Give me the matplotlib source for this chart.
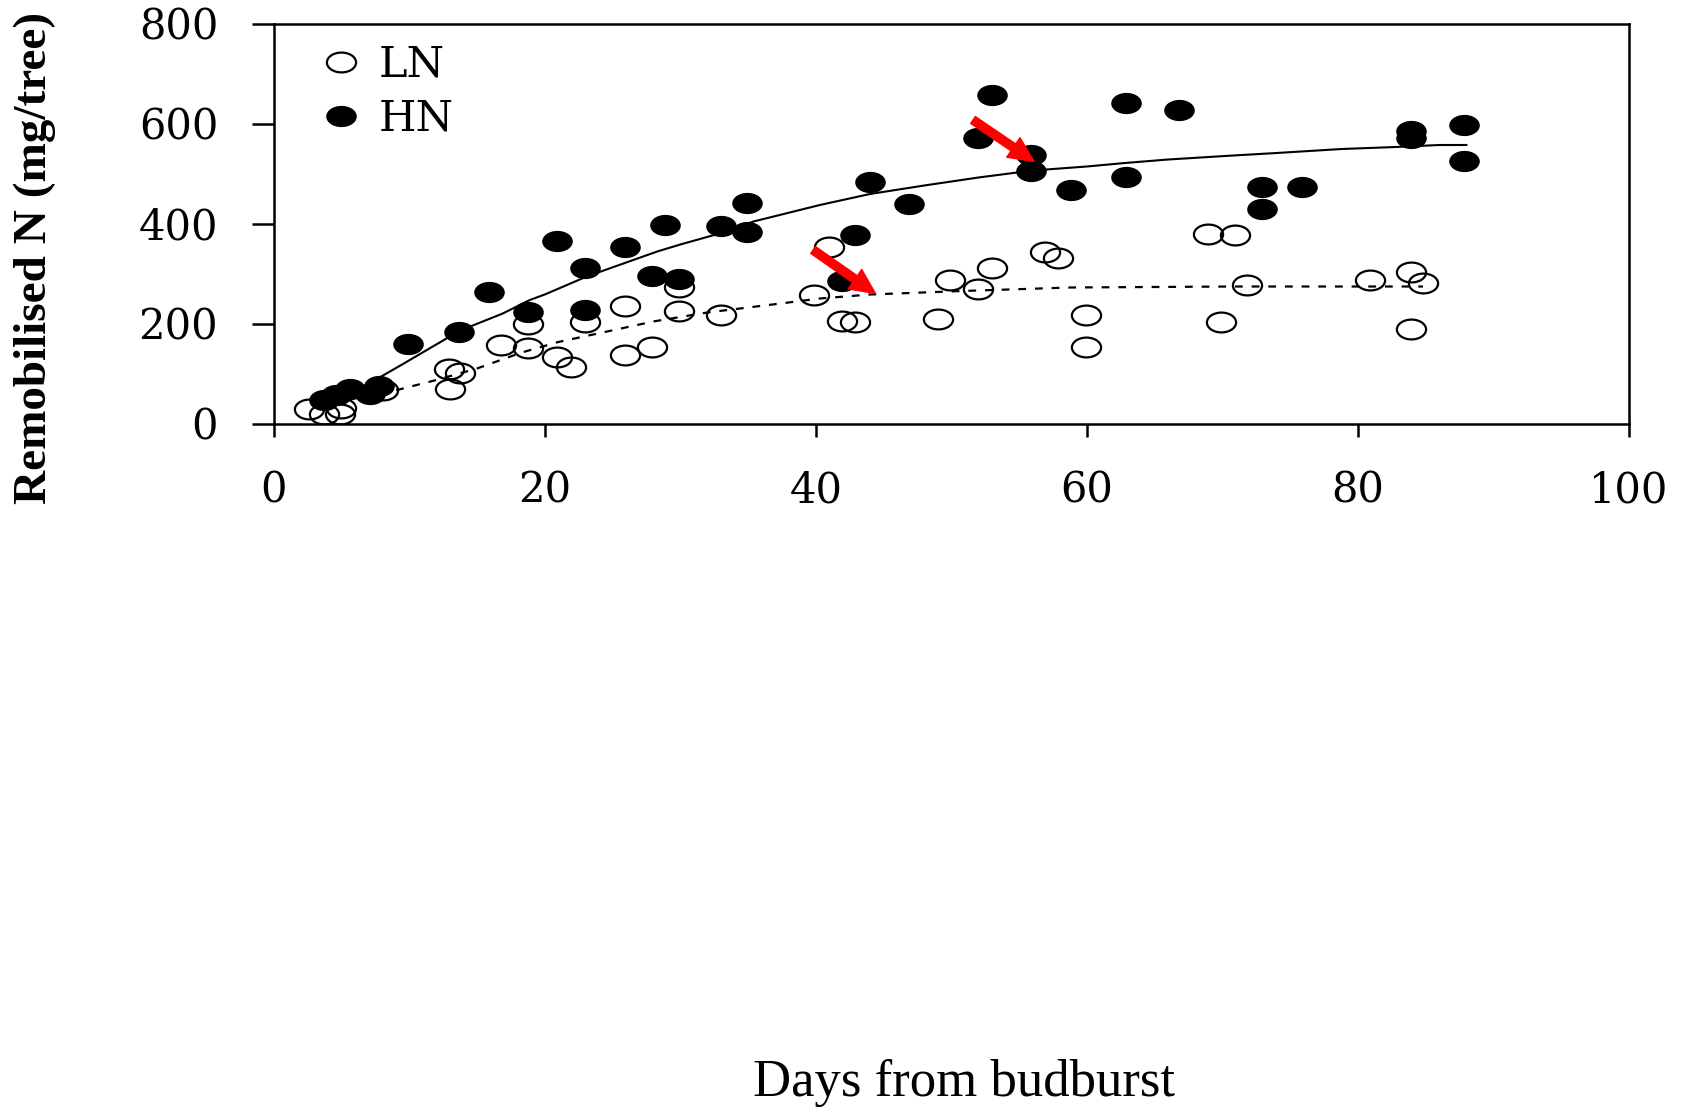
import numpy as np
import matplotlib
matplotlib.use("Agg")
import matplotlib.pyplot as plt
from matplotlib.path import Path
from matplotlib.transforms import Affine2D

# ---------------- data ----------------
hn_days = [3.7, 4.6, 5.6, 7.1, 7.8, 9.9, 13.7, 15.9, 18.8, 20.9, 23.0, 23.0, 25.9, 27.9,
           28.9, 29.9, 33.0, 34.9, 34.9, 41.9, 42.9, 44.0, 46.9, 52.0, 53.0, 55.9, 55.9,
           58.8, 62.9, 62.9, 66.8, 72.9, 72.9, 75.9, 83.9, 83.9, 87.8, 87.8]
hn_values = [47, 57, 70, 60, 75, 160, 184, 264, 223, 366, 312, 228, 353, 295,
             397, 290, 395, 442, 384, 286, 377, 483, 440, 572, 657, 538, 505,
             468, 642, 494, 627, 473, 429, 473, 585, 572, 598, 525]

ln_days = [2.6, 3.7, 4.9, 5.0, 8.1, 12.9, 13.75, 13.0, 16.8, 18.8, 18.8, 20.9, 21.9, 23.0,
           25.9, 25.9, 27.9, 29.9, 29.9, 33.0, 39.9, 41.0, 41.9, 42.9, 49.0, 49.9, 52.0,
           53.0, 56.9, 57.9, 59.9, 59.9, 68.9, 70.9, 69.9, 71.8, 80.9, 83.9, 84.8, 83.9]
ln_values = [30, 19, 20, 32, 67, 110, 102, 70, 158, 199, 152, 134, 114, 204,
             236, 137, 154, 274, 225, 218, 258, 353, 206, 204, 210, 288, 269,
             312, 343, 332, 217, 154, 379, 377, 204, 277, 288, 304, 282, 189]

hn_fit_days = [4, 6, 8, 9.6, 11.3, 13, 14.5, 16.9, 18.9, 20, 23.1, 28.3, 30, 32.9, 35.4,
               40.3, 44, 48, 52, 56, 60, 62.8, 66, 70.8, 74, 78.8, 82.8, 86, 88]
hn_fit_values = [45, 65, 95, 120, 147, 174, 194, 220, 247, 258, 294, 344, 358, 380, 404,
                 437, 459, 476, 492, 506, 514, 521, 528, 536, 541, 549, 553, 557, 557]

ln_fit_days = [3, 6, 9.1, 12, 15, 18.3, 21, 24.6, 28, 32, 37.4, 40.3, 44, 50.8, 58.8, 70.8, 84.8]
ln_fit_values = [35, 52, 67, 87, 110, 142, 163, 184, 204, 222, 240, 250, 258, 265, 272, 274, 274]

arrow_tails = [(51.6, 607), (39.8, 347)]
arrow_heads = [(56.1, 524), (44.4, 260)]

x_ticks = [0, 20, 40, 60, 80, 100]
y_ticks = [0, 200, 400, 600, 800]
series_labels = ["LN", "HN"]
x_label = "Days from budburst"
y_label = "Remobilised N (mg/tree)"

# ---------------- figure ----------------
W, H = 1698, 1112
fig = plt.figure(figsize=(W / 100, H / 100), dpi=100)
ax = fig.add_axes([273.7 / W, (H - 423.5) / H, 1355.3 / W, 400 / H])

ellipse = Path.unit_circle().transformed(Affine2D().scale(1.0, 0.68))

ax.plot(hn_fit_days, hn_fit_values, color="black", lw=1.5, zorder=2)
ax.plot(ln_fit_days, ln_fit_values, color="black", lw=1.6, dashes=(3.5, 4), zorder=2)

ax.plot(ln_days, ln_values, linestyle="none", marker=ellipse, markersize=21,
        markerfacecolor="none", markeredgecolor="black", markeredgewidth=1.6,
        label=series_labels[0], zorder=3)
ax.plot(hn_days, hn_values, linestyle="none", marker=ellipse, markersize=21,
        markerfacecolor="black", markeredgecolor="black", markeredgewidth=1.0,
        label=series_labels[1], zorder=4)

for (tx, ty), (hx, hy) in zip(arrow_tails, arrow_heads):
    ax.annotate("", xy=(hx, hy), xytext=(tx, ty),
                arrowprops=dict(arrowstyle="simple,head_length=1.8,head_width=1.7,tail_width=0.6",
                                color="#ff0000", mutation_scale=10, shrinkA=0, shrinkB=0),
                zorder=5)

ax.set_xlim(0, 100)
ax.set_ylim(0, 800)
ax.set_xticks(x_ticks)
ax.set_yticks(y_ticks)

tick_font = dict(family="DejaVu Serif", size=30)
ax.set_xticklabels([str(v) for v in x_ticks], fontdict=tick_font)
ax.set_yticklabels([str(v) for v in y_ticks], fontdict=tick_font)
ax.tick_params(axis="y", direction="out", length=16, width=1.8, pad=24)
ax.tick_params(axis="x", direction="out", length=9, width=1.8, pad=24)

for sp in ax.spines.values():
    sp.set_linewidth(1.8)

ax.set_ylabel(y_label, family="Liberation Serif", fontweight="bold", fontsize=34,
              va="center")
ax.yaxis.set_label_coords((35 - 273.7) / 1355.3, (423.5 - 258) / 400)
ax.set_xlabel(x_label, family="Liberation Serif", fontsize=38, va="center")
ax.xaxis.set_label_coords((964 - 273.7) / 1355.3, (423.5 - 1083) / 400)

leg = ax.legend(loc="upper left", bbox_to_anchor=(0.0354, 0.949), frameon=False,
                borderpad=0, borderaxespad=0, handlelength=0.9, handletextpad=0.43,
                labelspacing=0.28, numpoints=1,
                prop=dict(family="DejaVu Serif", size=31))

fig.savefig("out.png", dpi=100, facecolor="white")
